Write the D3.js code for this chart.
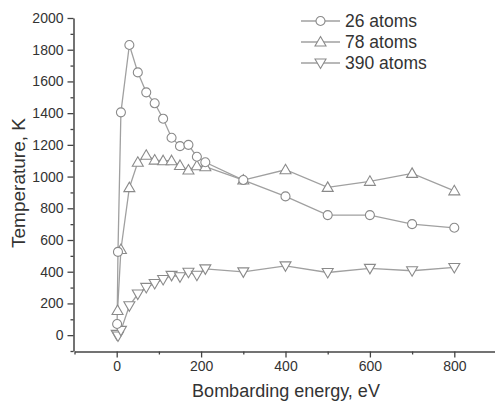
<!DOCTYPE html>
<html>
<head>
<meta charset="utf-8">
<script src="https://cdn.jsdelivr.net/npm/d3@7"></script>
<style>
  body { margin: 0; background: white; }
  text { font-family: "Liberation Sans", Arial, sans-serif; }
</style>
</head>
<body>
<div id="container"></div>
<script>
let w = 495;
let h = 403;

// data
let energy26 = [1, 3, 10, 30, 50, 70, 90, 110, 130, 150, 170, 190, 210, 300, 400, 500, 600, 700, 800];
let temp26 = [70, 525, 1405, 1830, 1657, 1531, 1462, 1365, 1245, 1192, 1200, 1125, 1090, 978, 875, 757, 757, 700, 677];

let energy78 = [2, 10, 30, 50, 70, 90, 110, 130, 150, 170, 190, 210, 300, 400, 500, 600, 700, 800];
let temp78 = [155, 540, 930, 1090, 1134, 1104, 1100, 1100, 1070, 1041, 1068, 1062, 978, 1043, 932, 970, 1020, 910];

let energy390 = [0, 3, 10, 30, 50, 70, 90, 110, 130, 150, 170, 190, 210, 300, 400, 500, 600, 700, 800];
let temp390 = [5, -5, 30, 185, 259, 301, 326, 351, 377, 368, 397, 378, 418, 399, 437, 395, 421, 406, 427];

let seriesNames = ["26 atoms", "78 atoms", "390 atoms"];
let xTicks = [0, 200, 400, 600, 800];
let yTicks = [0, 200, 400, 600, 800, 1000, 1200, 1400, 1600, 1800, 2000];

let viz = d3.select("#container")
  .append("svg")
    .attr("width", w)
    .attr("height", h)
    .style("background-color", "white")
;

let xScale = d3.scaleLinear().domain([-100, 900]).range([74.5, 496.5]);
let yScale = d3.scaleLinear().domain([-100, 2000]).range([351, 18]);

let axisColor = "#444";
let lineColor = "#a0a0a0";
let markColor = "#8a8a8a";

// axes
let xAxis = viz.append("g")
  .attr("transform", "translate(0,351.5)")
  .call(d3.axisBottom(xScale).tickValues(xTicks).tickSize(6).tickSizeOuter(0).tickPadding(4).tickFormat(d3.format("d")));
let xMinor = viz.append("g")
  .attr("transform", "translate(0,351.5)")
  .call(d3.axisBottom(xScale).tickValues(d3.range(-100, 901, 200)).tickSize(3).tickSizeOuter(0).tickFormat(""));

let yAxis = viz.append("g")
  .attr("transform", "translate(73.5,0)")
  .call(d3.axisLeft(yScale).tickValues(yTicks).tickSize(6).tickSizeOuter(0).tickPadding(4).tickFormat(d3.format("d")));
let yMinor = viz.append("g")
  .attr("transform", "translate(73.5,0)")
  .call(d3.axisLeft(yScale).tickValues(d3.range(-100, 2000, 200)).tickSize(3).tickSizeOuter(0).tickFormat(""));

[xAxis, xMinor, yAxis, yMinor].forEach(function(a){
  a.selectAll("path").attr("stroke", axisColor).attr("stroke-width", 1.5);
  a.selectAll("line").attr("stroke", axisColor).attr("stroke-width", 1.3);
  a.selectAll("text").attr("fill", "#333").style("font-size", "14px");
});
xMinor.select("path").remove();
yMinor.select("path").remove();

viz.append("text")
  .text("Bombarding energy, eV")
  .attr("x", 286)
  .attr("y", 397)
  .attr("text-anchor", "middle")
  .attr("fill", "#333")
  .style("font-size", "18px");

viz.append("text")
  .text("Temperature, K")
  .attr("transform", "translate(25,183) rotate(-90)")
  .attr("text-anchor", "middle")
  .attr("fill", "#333")
  .style("font-size", "19px");

// markers
function drawMarker(g, kind){
  if (kind == 0) {
    g.append("circle").attr("r", 4.5);
  } if (kind == 1) {
    g.append("path").attr("d", "M0,-5.5L5.5,4L-5.5,4Z");
  } if (kind == 2) {
    g.append("path").attr("d", "M0,5.5L5.5,-4L-5.5,-4Z");
  }
  g.selectAll("circle,path")
    .attr("fill", "white")
    .attr("stroke", markColor)
    .attr("stroke-width", 1.1);
}

let line = d3.line().x(d => xScale(d[0])).y(d => yScale(d[1]));

let allSeries = [
  d3.zip(energy390, temp390),
  d3.zip(energy78, temp78),
  d3.zip(energy26, temp26)
];
let kinds = [2, 1, 0];

allSeries.forEach(function(pts, k){
  viz.append("path")
    .datum(pts)
    .attr("d", line)
    .attr("fill", "none")
    .attr("stroke", lineColor)
    .attr("stroke-width", 1.3);
});
allSeries.forEach(function(pts, k){
  let groups = viz.selectAll(".m" + k).data(pts).enter()
    .append("g")
      .classed("m" + k, true)
      .attr("transform", d => "translate(" + xScale(d[0]) + "," + yScale(d[1]) + ")");
  groups.each(function(){ drawMarker(d3.select(this), kinds[k]); });
});

// legend
let legend = viz.selectAll(".legend").data(seriesNames).enter()
  .append("g")
    .classed("legend", true)
    .attr("transform", (d, i) => "translate(301," + (21 + i * 21) + ")");
legend.append("line")
  .attr("x1", 0).attr("x2", 39)
  .attr("stroke", lineColor).attr("stroke-width", 1.3);
legend.each(function(d, i){
  let g = d3.select(this).append("g").attr("transform", "translate(19.5,0)");
  drawMarker(g, i);
});
legend.append("text")
  .text(d => d)
  .attr("x", 44)
  .attr("dy", "0.35em")
  .attr("fill", "#333")
  .style("font-size", "17.5px");
</script>
</body>
</html>
